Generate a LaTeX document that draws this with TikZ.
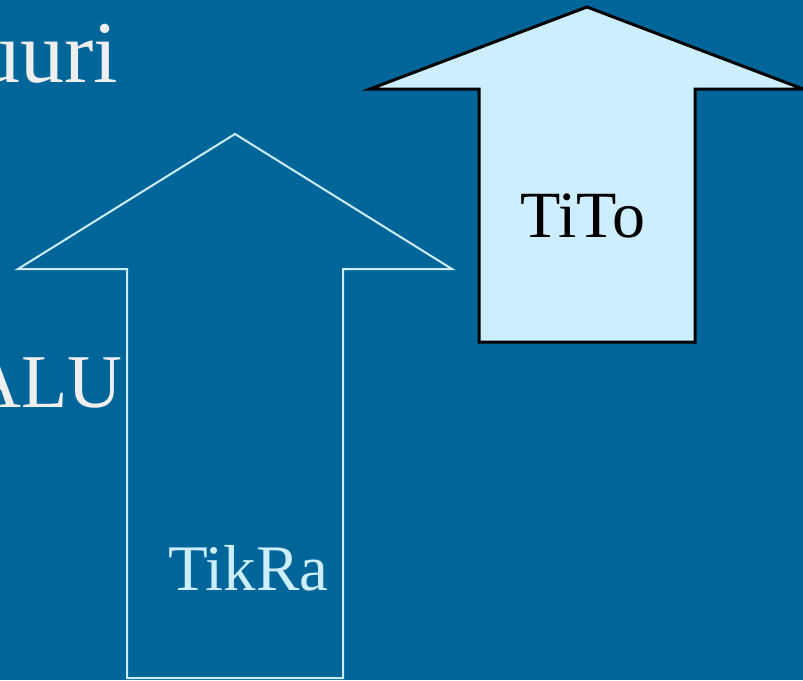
\documentclass[tikz,border=0pt]{standalone}
\usepackage{fontspec}
\setmainfont{Liberation Serif}
\definecolor{bg}{HTML}{006699}
\definecolor{lightblue}{HTML}{CCEEFF}
\definecolor{lightgray}{HTML}{EEEEEE}
\begin{document}
\begin{tikzpicture}[x=1pt,y=-1pt,
  bigtext/.style={inner sep=0pt,font=\fontsize{76}{80}\selectfont,text=lightgray},
  outlinearrow/.style={draw=lightblue,line width=2pt,line join=miter},
  filledarrow/.style={draw=black,fill=lightblue,line width=3pt,line join=miter}]
\fill[bg] (0,0) rectangle (803,680);
\useasboundingbox (0,0) rectangle (803,680);
% outlined arrow (TikRa)
\draw[outlinearrow] (235,134) -- (452,269) -- (343,269) -- (343,678) -- (127,678) -- (127,269) -- (18,269) -- cycle;
% filled arrow (TiTo)
\draw[filledarrow] (587,7) -- (803,89) -- (695,89) -- (695,342) -- (479,342) -- (479,89) -- (370,89) -- cycle;
\node[bigtext,font=\fontsize{88}{90}\selectfont,anchor=base east] (uuri) at (118,82) {uuri};
\node[bigtext,anchor=base east] (alu) at (123,407) {ALU};
\node[inner sep=0pt,font=\fontsize{65}{70}\selectfont,text=lightblue,anchor=base west] (tikra) at (168,590) {TikRa};
\node[inner sep=0pt,font=\fontsize{66}{70}\selectfont,text=black,anchor=base west] (tito) at (520,237) {TiTo};
\end{tikzpicture}
\end{document}
